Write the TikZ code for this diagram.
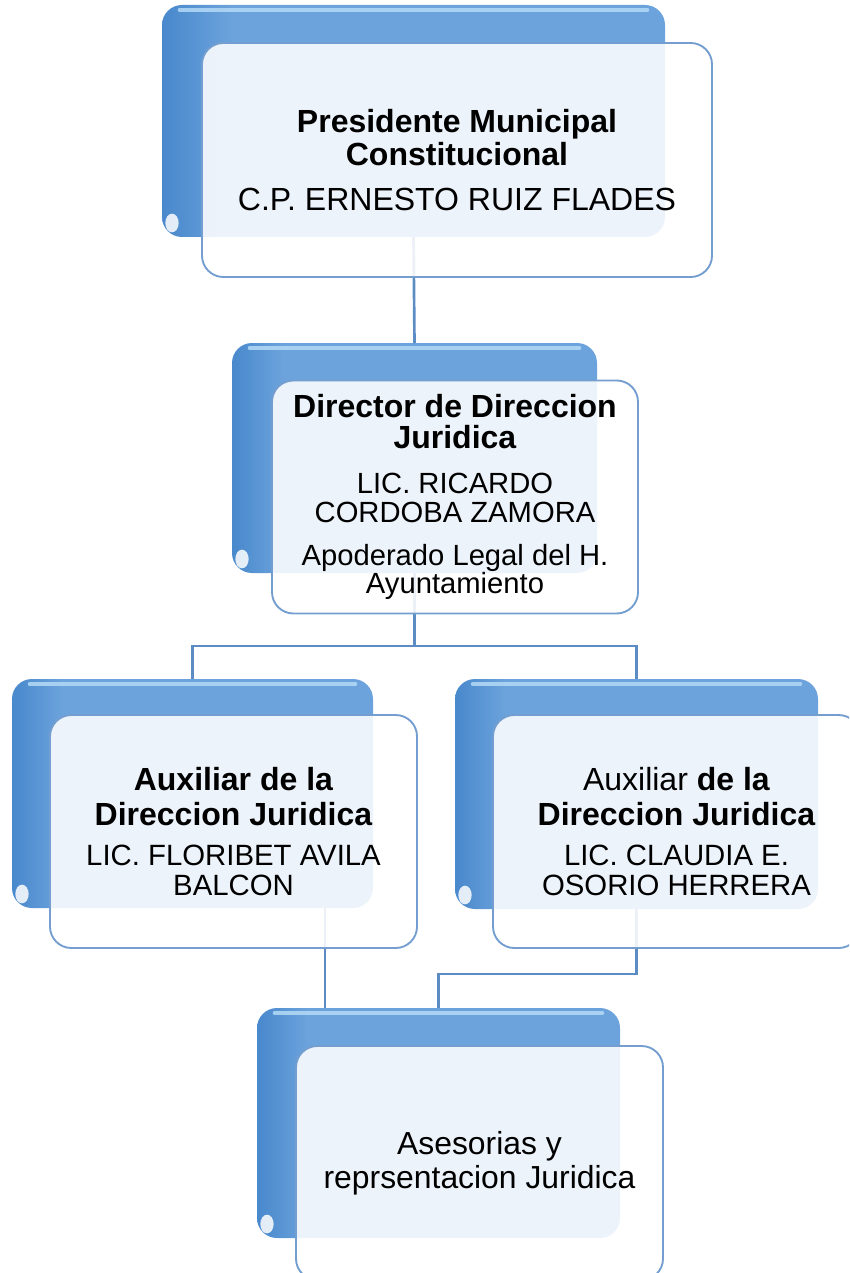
\documentclass[tikz,border=0pt]{standalone}
\usepackage{fontspec}
\setmainfont{Liberation Sans}
\usetikzlibrary{calc}
\definecolor{bD}{RGB}{72,136,204}
\definecolor{bM}{RGB}{108,163,220}
\definecolor{bHi}{RGB}{180,218,246}
\definecolor{frb}{RGB}{115,158,207}
\definecolor{ln}{RGB}{93,140,196}
\pgfdeclarehorizontalshading{blueside}{100bp}{color(0bp)=(bD); color(25bp)=(bD); color(32bp)=(bM); color(100bp)=(bM)}
\newcommand{\nsz}{\fontsize{22pt}{22.5pt}\selectfont}
\newcommand{\msz}{\fontsize{21.9pt}{21pt}\selectfont}
\begin{document}
\begin{tikzpicture}[x=0.75pt,y=-0.75pt,
  bluebox/.style={rectangle, rounded corners=15pt, shade, shading=blueside, draw=none, inner sep=0pt, outer sep=0pt},
  frontbox/.style={rectangle, rounded corners=16pt, fill=white, fill opacity=0.88, text opacity=1, draw=frb, line width=1.4pt, inner sep=0pt, outer sep=0pt, align=center, text=black},
  conn/.style={draw=ln, line width=2pt},
  hilite/.style={draw=bHi, line width=3.5pt, line cap=round, opacity=0.85},
  blob/.style={fill=white, opacity=0.85}]
\useasboundingbox (0,0) rectangle (849,1273);
\clip (0,0) rectangle (849,1273);
% blue back boxes
\node[bluebox, minimum width=377.25pt, minimum height=174pt] (b1) at (413.5,121) {};
\node[bluebox, minimum width=273.75pt, minimum height=172.5pt] (b2) at (414.5,458) {};
\node[bluebox, minimum width=270.75pt, minimum height=171.75pt] (b3) at (192.5,793.5) {};
\node[bluebox, minimum width=272.25pt, minimum height=172.5pt] (b4) at (636.5,794) {};
\node[bluebox, minimum width=272.25pt, minimum height=172.5pt] (b5) at (438.5,1123) {};
\foreach \b in {b1,b2,b3,b4,b5}{
  \draw[hilite] ($(\b.north west)+(18,5)$) -- ($(\b.north east)+(-18,5)$);
  \fill[blob] ($(\b.south west)+(10,-14)$) ellipse [x radius=5pt, y radius=7pt];
}
% connectors
\coordinate (hub1) at (0,646);
\coordinate (hub2) at (0,974);
\coordinate (j5) at ($(b5.north west)+(68,0)$);
\draw[conn] (b1.south) -- (b2.north);
\draw[conn] (b2.south) -- (b2.south |- hub1) -| (b3.north);
\draw[conn] (b2.south |- hub1) -| (b4.north);
\draw[conn] (b4.south) -- (b4.south |- hub2) -| (b5.north);
\draw[conn] (b3.south -| j5) -- (j5);
% front boxes with text
\node[frontbox, minimum width=382.5pt, minimum height=175.5pt, font=\fontsize{24pt}{24.75pt}\selectfont] (f1) at (457,160)
  {\textbf{Presidente Municipal}\\\textbf{Constitucional}\\[9pt]C.P. ERNESTO RUIZ FLADES};
\node[frontbox, minimum width=274.5pt, minimum height=174.75pt, font=\fontsize{24pt}{21pt}\selectfont] (f2) at (455,497)
  {\textbf{Director de Direccion}\\[2.25pt]\textbf{Juridica}\\[12.75pt]\msz LIC. RICARDO\\[0.75pt]\msz CORDOBA ZAMORA\\[11.25pt]\msz Apoderado Legal del H.\\\msz Ayuntamiento};
\node[frontbox, minimum width=275.25pt, minimum height=174.75pt, font=\fontsize{24pt}{22.5pt}\selectfont] (f3) at (233.5,831.5)
  {\textbf{Auxiliar de la}\\[3.4pt]\textbf{Direccion Juridica}\\[7.5pt]\nsz LIC. FLORIBET AVILA\\\nsz BALCON};
\node[frontbox, minimum width=275.25pt, minimum height=174.75pt, font=\fontsize{24pt}{22.5pt}\selectfont] (f4) at (676.5,831.5)
  {Auxiliar \textbf{de la}\\[3.4pt]\textbf{Direccion Juridica}\\[7.5pt]\nsz LIC. CLAUDIA E.\\\nsz OSORIO HERRERA};
\node[frontbox, minimum width=275.25pt, minimum height=175.5pt, font=\fontsize{23.9pt}{25.5pt}\selectfont] (f5) at (479.5,1163)
  {Asesorias y\\reprsentacion Juridica};
\end{tikzpicture}
\end{document}
